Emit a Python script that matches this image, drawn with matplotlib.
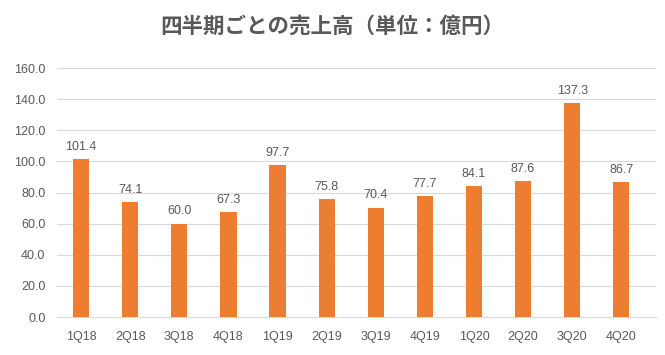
import matplotlib
matplotlib.use('Agg')
import matplotlib.pyplot as plt

# quarterly sales (unit: 100M yen)
quarters = ['1Q18', '2Q18', '3Q18', '4Q18', '1Q19', '2Q19', '3Q19', '4Q19',
            '1Q20', '2Q20', '3Q20', '4Q20']
sales = [101.4, 74.1, 60.0, 67.3, 97.7, 75.8, 70.4, 77.7, 84.1, 87.6, 137.3, 86.7]
y_ticks = [0, 20, 40, 60, 80, 100, 120, 140, 160]

text_color = '#595959'
bar_color = '#ED7D31'
num_font = ['Liberation Sans Narrow', 'Liberation Sans', 'DejaVu Sans']

fig = plt.figure(figsize=(6.65, 3.55), dpi=100)
ax = fig.add_axes([0.085, 0.107, 0.901, 0.701])

x = range(len(quarters))
bars = ax.bar(x, sales, width=0.33, color=bar_color, zorder=3)

for xi, v in zip(x, sales):
    ax.text(xi, v + 4, f'{v:.1f}', ha='center', va='bottom',
            fontsize=9, color=text_color, family=num_font)

ax.set_ylim(0, 160)
ax.set_xlim(-0.5, len(quarters) - 0.3)
ax.set_yticks(y_ticks)
ax.set_yticklabels([f'{t:.1f}' for t in y_ticks], family=num_font, fontsize=9, color=text_color)
ax.set_xticks(list(x))
ax.set_xticklabels(quarters, family=num_font, fontsize=9, color=text_color)
ax.tick_params(axis='both', length=0)
ax.tick_params(axis='x', pad=10)
ax.tick_params(axis='y', pad=8)

ax.grid(axis='y', color='#D9D9D9', linewidth=0.8, zorder=0)
for side in ['top', 'right', 'left']:
    ax.spines[side].set_visible(False)
ax.spines['bottom'].set_color('#D9D9D9')

fig.text(0.5, 0.925, '四半期ごとの売上高（単位：億円）', ha='center', va='center',
         fontsize=15.5, fontweight='bold', color=text_color,
         family=['Noto Sans CJK JP', 'DejaVu Sans'])

fig.savefig('out.png', dpi=100)
